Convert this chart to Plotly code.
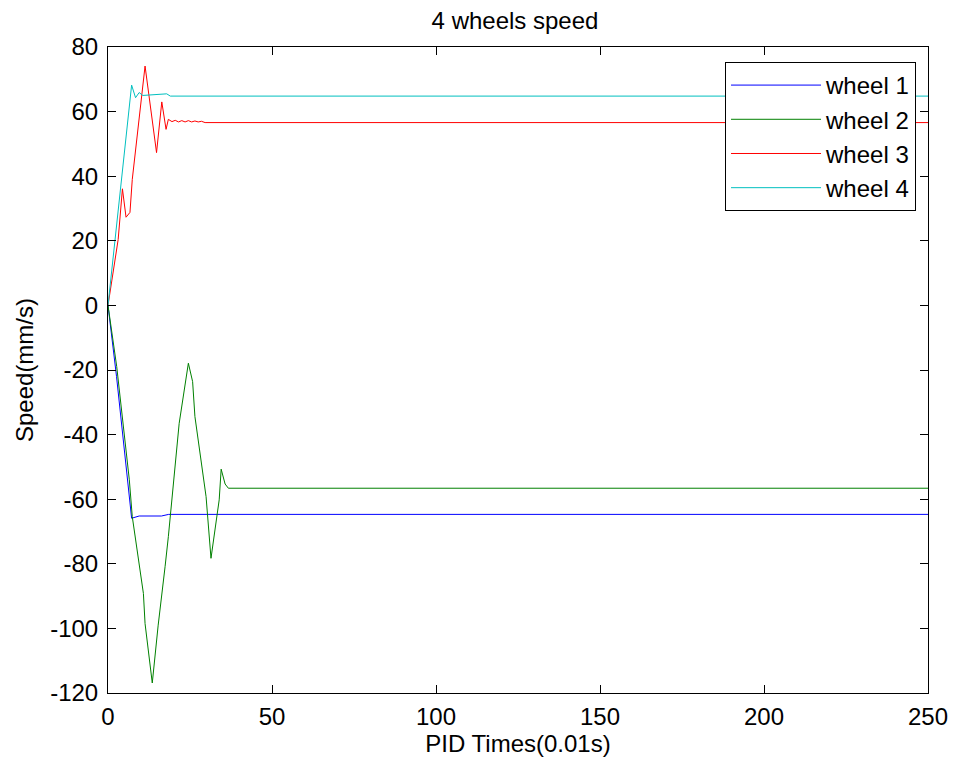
import plotly.graph_objects as go

# time axis (PID steps, 0.01 s) and speeds (mm/s)
t_w1 = [0, 2.6, 7.2, 8.4, 9.5, 16.3, 18.5, 250]
w1 = [0, -22, -65.9, -65.6, -65.2, -65.2, -64.7, -64.7]

t_w2 = [0, 2.65, 6.5, 7.4, 10.8, 11.3, 13.5, 15.3, 17.4, 18.4, 21.7, 24.5,
        25.8, 26.5, 29.9, 31.4, 33.9, 34.5, 35.7, 36.7, 250]
w2 = [0, -18.9, -54, -65.4, -89.2, -98.5, -116.9, -99, -80.9, -71.6, -36.5,
      -17.9, -23.6, -34.4, -59.2, -78.3, -60.2, -50.7, -55.3, -56.6, -56.6]

t_w3 = [0, 3.1, 4.4, 5.5, 6.7, 7.4, 11.3, 14.8, 16.4, 17.7, 18.4, 19.5, 20.5,
        21.5, 22.5, 23.5, 24.5, 25.5, 26.5, 27.5, 28.5, 29.6, 250]
w3 = [0, 20.4, 36.1, 27.3, 28.8, 39, 74.1, 47.3, 63, 54.5, 57.6, 56.9, 57.3,
      56.8, 57.2, 56.8, 57.2, 56.8, 57.1, 56.8, 57.0, 56.6, 56.6]

t_w4 = [0, 7.2, 8.4, 9.5, 10.6, 17.9, 19, 250]
w4 = [0, 68.2, 64.3, 65.9, 65.0, 65.5, 64.8, 64.8]

names = ["wheel 1", "wheel 2", "wheel 3", "wheel 4"]
colors = ["#0000FF", "#008000", "#FF0000", "#00BFBF"]

x_ticks = [0, 50, 100, 150, 200, 250]
x_tick_labels = ["0", "50", "100", "150", "200", "250"]
y_ticks = [80, 60, 40, 20, 0, -20, -40, -60, -80, -100, -120]
y_tick_labels = ["80", "60", "40", "20", "0", "-20", "-40", "-60", "-80", "-100", "-120"]

FONT = "Liberation Sans, Arial, sans-serif"
FS = 24

fig = go.Figure()
for i, (tx, ty) in enumerate([(t_w1, w1), (t_w2, w2), (t_w3, w3), (t_w4, w4)]):
    fig.add_trace(go.Scatter(x=tx, y=ty, mode="lines", name=names[i],
                             legendgroup=names[i],
                             line=dict(color=colors[i], width=1)))

axis_common = dict(showline=True, linecolor="black", linewidth=1, mirror="ticks",
                   ticks="inside", ticklen=8, tickcolor="black", tickwidth=1,
                   showgrid=False, zeroline=False, automargin=False,
                   tickfont=dict(family=FONT, size=FS, color="black"))

fig.update_layout(
    width=953, height=767,
    margin=dict(l=108, r=25, t=47, b=74),
    paper_bgcolor="white", plot_bgcolor="white",
    title=dict(text="4 wheels speed", x=0.5404, xanchor="center", y=0.9733, yanchor="middle",
               font=dict(family=FONT, size=FS, color="black")),
    xaxis=dict(range=[0, 250], tickvals=x_ticks, ticktext=x_tick_labels,
               ticklabelstandoff=2,
               title=dict(text="PID Times(0.01s)", standoff=2,
                          font=dict(family=FONT, size=FS, color="black")),
               **axis_common),
    yaxis=dict(range=[-120, 80], tickvals=y_ticks, ticktext=y_tick_labels,
               ticklabelstandoff=4,
               title=dict(text="Speed(mm/s)", standoff=9,
                          font=dict(family=FONT, size=FS, color="black")),
               **axis_common),
    legend=dict(x=0.9854, xanchor="right", y=0.9768, yanchor="top",
                bgcolor="white", bordercolor="black", borderwidth=1,
                font=dict(family=FONT, size=FS, color="black"),
                tracegroupgap=0, itemwidth=90),
    showlegend=True,
)

# remove the default page margin so the figure sits at the window origin
fig.write_html("out.html", config={"displayModeBar": False},
               post_script="document.body.style.margin='0';")
